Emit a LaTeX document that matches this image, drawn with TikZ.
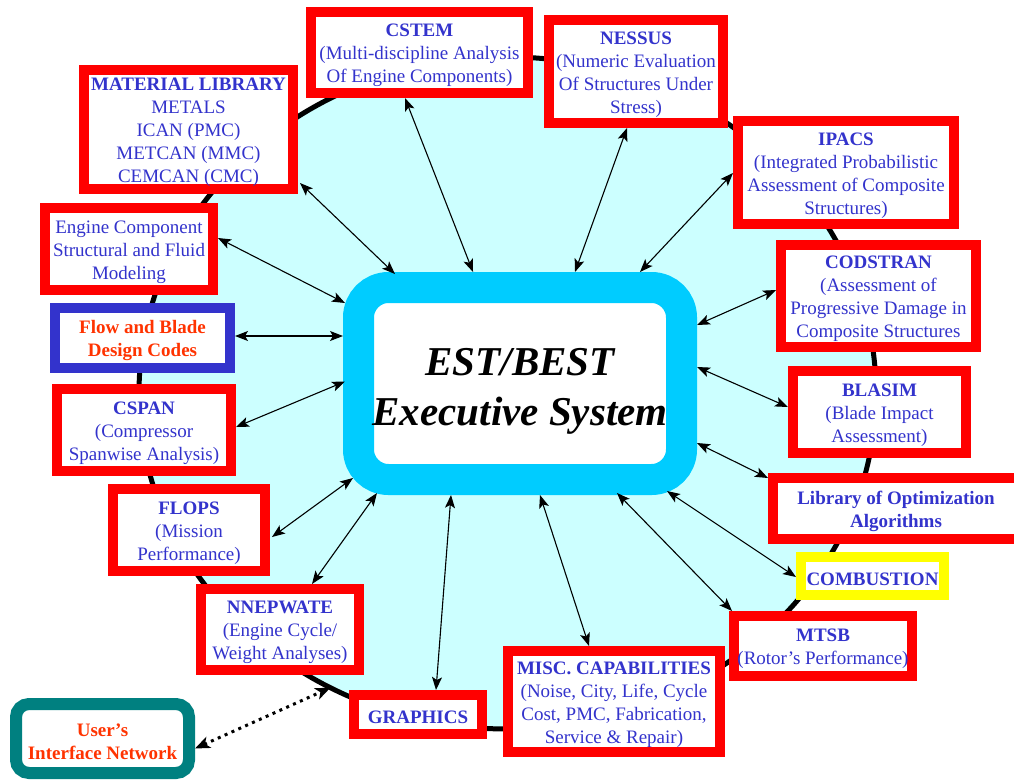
\documentclass[tikz,border=0pt]{standalone}
\usepackage{fontspec}
\setmainfont{Liberation Serif}
\usetikzlibrary{arrows.meta,calc,shapes.geometric}
\definecolor{redB}{HTML}{FF0000}
\definecolor{blueT}{HTML}{3333CC}
\definecolor{orangeT}{HTML}{FF3300}
\definecolor{cyanC}{HTML}{00CCFF}
\definecolor{lightC}{HTML}{CCFFFF}
\definecolor{tealB}{HTML}{008080}
\definecolor{yellowB}{HTML}{FFFF00}
\newcommand\mystrut{\rule{0pt}{19pt}}
\begin{document}
\begin{tikzpicture}[x=1pt,y=-1pt,
  box/.style={draw=redB, line width=10pt, outer sep=5pt, fill=white, inner sep=0pt,
    align=center, text=blueT, font=\fontsize{19}{23}\selectfont},
  tipS/.tip={Stealth[length=13pt,width=10pt,inset=3pt]},
  biarr/.style={tipS-tipS, line width=1.1pt, black},
  dotarr/.style={{Stealth[length=15pt,width=12pt,inset=4pt]}-{Stealth[length=15pt,width=12pt,inset=4pt]},
    line width=3pt, dash pattern=on 3pt off 4.5pt, black},
]
\useasboundingbox (0,0) rectangle (1014,780);
\fill[white] (0,0) rectangle (1014,780);

% ring
\node[ellipse, draw=black, line width=5pt, fill=lightC, minimum width=737pt,
  minimum height=672pt, inner sep=0pt, outer sep=0pt] (ring) at (507.5,393) {};

% core
\node[draw=cyanC, line width=31pt, outer sep=15.5pt, fill=white, rounded corners=30pt,
  minimum width=323pt, minimum height=192pt, inner sep=0pt, align=center,
  font=\fontsize{41}{50}\selectfont\bfseries\itshape] (core) at (520,383.5)
  {\rule{0pt}{42pt}EST/BEST\\Executive System};

% boxes
\node[box, minimum width=217pt, minimum height=81pt] (cstem) at (419.5,52.5)
  {\mystrut\textbf{CSTEM}\\(Multi-discipline Analysis\\Of Engine Components)};
\node[box, minimum width=174pt, minimum height=103pt] (nessus) at (636,71.5)
  {\mystrut\textbf{NESSUS}\\(Numeric Evaluation\\Of Structures Under\\Stress)};
\node[box, minimum width=216pt, minimum height=103pt] (ipacs) at (846,172.5)
  {\mystrut\textbf{IPACS}\\(Integrated Probabilistic\\Assessment of Composite\\Structures)};
\node[box, minimum width=195pt, minimum height=102pt] (codstran) at (878.5,296)
  {\mystrut\textbf{CODSTRAN}\\(Assessment of\\Progressive Damage in\\Composite Structures};
\node[box, minimum width=173pt, minimum height=82pt] (blasim) at (879.5,412)
  {\mystrut\textbf{BLASIM}\\(Blade Impact\\Assessment)};
\node[box, minimum width=246pt, minimum height=61pt] (libopt) at (896,508.5)
  {\mystrut\textbf{Library of Optimization}\\\textbf{Algorithms}};
\node[box, draw=yellowB, minimum width=143pt, minimum height=38pt] (comb) at (872.5,576)
  {\mystrut\textbf{COMBUSTION}};
\node[box, minimum width=178pt, minimum height=60pt] (mtsb) at (823,646)
  {\mystrut\textbf{MTSB}\\(Rotor’s Performance)};
\node[box, minimum width=212pt, minimum height=101pt] (misc) at (614,701.5)
  {\mystrut\textbf{MISC. CAPABILITIES}\\(Noise, City, Life, Cycle\\Cost, PMC, Fabrication,\\Service \& Repair)};
\node[box, minimum width=128pt, minimum height=39pt] (graphics) at (418,714.5)
  {\mystrut\textbf{GRAPHICS}};
\node[box, draw=tealB, line width=12pt, outer sep=6pt, rounded corners=13pt,
  minimum width=173pt, minimum height=69pt, text=orangeT] (user) at (102.5,738.5)
  {\mystrut\textbf{User’s}\\\textbf{Interface Network}};
\node[box, minimum width=158pt, minimum height=81pt] (nnep) at (280,629.5)
  {\mystrut\textbf{NNEPWATE}\\(Engine Cycle/\\Weight Analyses)};
\node[box, minimum width=152pt, minimum height=82pt] (flops) at (189,530)
  {\mystrut\textbf{FLOPS}\\(Mission\\Performance)};
\node[box, minimum width=174pt, minimum height=82pt] (cspan) at (144,430)
  {\mystrut\textbf{CSPAN}\\(Compressor\\Spanwise Analysis)};
\node[box, draw=blueT, minimum width=175pt, minimum height=60pt, text=orangeT] (flow) at (142.5,338)
  {\mystrut\textbf{Flow and Blade}\\\textbf{Design Codes}};
\node[box, minimum width=168pt, minimum height=82pt] (engine) at (129,249)
  {\mystrut Engine Component\\Structural and Fluid\\Modeling};
\node[box, minimum width=209pt, minimum height=119pt] (matlib) at (188.5,129.5)
  {\mystrut\textbf{MATERIAL LIBRARY}\\METALS\\ICAN (PMC)\\METCAN (MMC)\\CEMCAN (CMC)};

% connectors
\draw[biarr] ($(matlib.south east)+(2,-11)$) -- ($(core.north west)+(52,2)$);
\draw[biarr] ($(cstem.south)+(-14.5,0)$) -- ($(core.north)+(-47,0)$);
\draw[biarr] ($(nessus.south)+(-9,0)$) -- ($(core.north)+(55,0)$);
\draw[biarr] ($(ipacs.west)+(0,0.5)$) -- ($(core.north)+(120,0)$);
\draw[biarr] ($(codstran.west)+(0,-6)$) -- ($(core.north east)+(0,53)$);
\draw[biarr] ($(core.east)+(0,-16.5)$) -- ($(blasim.west)+(0,-5)$);
\draw[biarr] ($(core.east)+(0,59.5)$) -- ($(libopt.north west)+(0,5)$);
\draw[biarr] ($(core.south east)+(-30,-4)$) -- ($(comb.west)+(0,1)$);
\draw[biarr] ($(core.south)+(97,-2)$) -- ($(mtsb.north west)+(3,0)$);
\draw[biarr] ($(core.south)+(20,0)$) -- ($(misc.north)+(-25,0)$);
\draw[biarr] ($(core.south)+(-69,0)$) -- ($(graphics.north)+(18,0)$);
\draw[biarr] ($(core.south west)+(34,-2)$) -- ($(nnep.north)+(32,0)$);
\draw[biarr] ($(core.south west)+(10,-17)$) -- ($(flops.east)+(2,7)$);
\draw[biarr] ($(core.west)+(2,-2)$) -- ($(cspan.east)+(0,-3)$);
\draw[biarr] ($(flow.east)+(0,-2)$) -- ($(core.west)+(0,-47.5)$);
\draw[biarr] ($(engine.east)+(0,-11)$) -- ($(core.north west)+(2,31)$);
\draw[dotarr] ($(user.east)+(0,10)$) -- (ring.239.85);
\end{tikzpicture}
\end{document}
